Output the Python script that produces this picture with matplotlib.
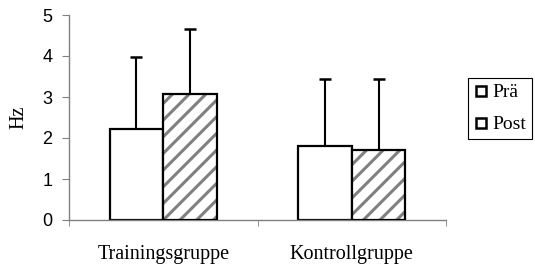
import matplotlib
matplotlib.use("Agg")
import matplotlib.pyplot as plt
import numpy as np
from matplotlib.lines import Line2D

categories = ["Trainingsgruppe", "Kontrollgruppe"]
series = ["Prä", "Post"]
pre_vals = [2.22, 1.81]
post_vals = [3.07, 1.71]
pre_err = [1.76, 1.62]
post_err = [1.60, 1.72]
yticks = [0, 1, 2, 3, 4, 5]

plt.rcParams['hatch.linewidth'] = 2.2

fig = plt.figure(figsize=(5.35, 2.65), dpi=100)
ax = fig.add_axes([69/535, 45/265, (446-69)/535, (220-15)/265])

x = np.arange(len(categories))
w = 0.285
ax.bar(x - w/2, pre_vals, w, color='white', edgecolor='black', linewidth=1.6, zorder=2)
# hatched fill in grey, then black outline on top
ax.bar(x + w/2, post_vals, w, color='white', edgecolor='#808080', linewidth=0,
       hatch='//', zorder=2)
ax.bar(x + w/2, post_vals, w, fill=False, edgecolor='black', linewidth=1.6, zorder=3)
ax.errorbar(x - w/2, pre_vals, yerr=[np.zeros(len(pre_err)), pre_err], fmt='none',
            ecolor='black', elinewidth=1.5, capsize=4.5, capthick=1.8, zorder=1)
ax.errorbar(x + w/2, post_vals, yerr=[np.zeros(len(post_err)), post_err], fmt='none',
            ecolor='black', elinewidth=1.5, capsize=4.5, capthick=1.8, zorder=1)

ax.set_xlim(-0.5, len(categories) - 0.5)
ax.set_ylim(0, 5)
ax.set_yticks(yticks)
ax.set_yticklabels([str(t) for t in yticks], fontfamily='Liberation Sans', fontsize=13)
ax.set_xticks(x)
ax.set_xticklabels(categories, fontfamily='Liberation Serif', fontsize=14.5)
ax.set_xticks(np.arange(len(categories) + 1) - 0.5, minor=True)
ax.tick_params(axis='x', which='major', length=0, pad=18)
ax.tick_params(axis='x', which='minor', length=4, color='#808080', direction='out')
ax.tick_params(axis='y', length=5, color='#808080', direction='out', pad=7)
for s in ['top', 'right']:
    ax.spines[s].set_visible(False)
for s in ['left', 'bottom']:
    ax.spines[s].set_color('#808080')
    ax.spines[s].set_linewidth(1.0)
ax.set_ylabel("Hz", fontfamily='Liberation Serif', fontsize=14.5, labelpad=10)

handles = [Line2D([], [], marker='s', linestyle='none', markersize=6.5,
                  markerfacecolor='white', markeredgecolor='black', markeredgewidth=1.8)
           for _ in series]
leg = fig.legend(handles, series, loc='upper left', bbox_to_anchor=(468/535, 1 - 78/265),
                 frameon=True, fancybox=False, edgecolor='black', framealpha=1,
                 prop={'family': 'Liberation Serif', 'size': 14},
                 handlelength=0.7, handletextpad=0.25, borderpad=0.3, labelspacing=0.74,
                 borderaxespad=0)
leg.get_frame().set_linewidth(0.8)

fig.savefig("out.png", dpi=100)
